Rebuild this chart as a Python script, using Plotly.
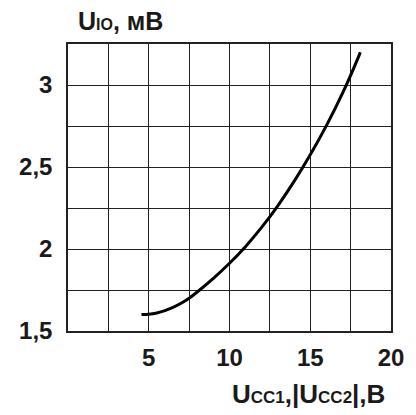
import plotly.graph_objects as go

# Data
u_cc = [4.55, 5.0, 5.5, 6.0, 6.5, 7.0, 7.5, 8.0, 9.0, 10.0, 11.0, 12.0, 13.0, 14.0, 15.0, 16.0, 17.0, 18.0, 18.1]
u_io = [1.600, 1.602, 1.610, 1.624, 1.644, 1.669, 1.700, 1.738, 1.821, 1.913, 2.016, 2.133, 2.265, 2.412, 2.574, 2.752, 2.950, 3.175, 3.200]

x_tickvals = [0, 2.5, 5, 7.5, 10, 12.5, 15, 17.5, 20]
x_ticktext = ["", "", "5", "", "10", "", "15", "", "20"]
y_tickvals = [1.5, 1.75, 2.0, 2.25, 2.5, 2.75, 3.0, 3.25]
y_ticktext = ["1,5", "", "2", "", "2,5", "", "3", ""]

FONT = "Liberation Sans, Arial, sans-serif"

fig = go.Figure()
fig.add_trace(go.Scatter(
    x=u_cc, y=u_io, mode="lines",
    line=dict(color="black", width=3, shape="spline", smoothing=0.6),
    showlegend=False, hoverinfo="skip",
))

axis_common = dict(
    showgrid=True, gridcolor="#222222", gridwidth=1,
    showline=True, linecolor="#222222", linewidth=1.5, mirror=True,
    zeroline=False, ticks="",
    tickfont=dict(family=FONT, size=24, color="#1a1a1a", weight="bold"),
)

fig.update_layout(
    width=416, height=415,
    margin=dict(l=68, r=19, t=44, b=84),
    paper_bgcolor="white", plot_bgcolor="white",
    xaxis=dict(range=[0, 20], tickmode="array", tickvals=x_tickvals, ticktext=x_ticktext,
               ticklabelstandoff=4, **axis_common),
    yaxis=dict(range=[1.5, 3.25], tickmode="array", tickvals=y_tickvals, ticktext=y_ticktext,
               ticklabelstandoff=9, **axis_common),
    annotations=[
        dict(
            text='U<span style="font-size:16px">IO</span>, мВ',
            xref="paper", yref="paper", x=0.024, y=1.08,
            xanchor="left", yanchor="middle", showarrow=False,
            font=dict(family=FONT, size=25, color="#1a1a1a", weight="bold"),
        ),
        dict(
            text='U<span style="font-size:17px">CC1</span>,|U<span style="font-size:17px">CC2</span>|,B',
            xref="paper", yref="paper", x=0.988, y=-0.2195,
            xanchor="right", yanchor="middle", showarrow=False,
            font=dict(family=FONT, size=26, color="#1a1a1a", weight="bold"),
        ),
    ],
)

fig.write_html("out.html")
